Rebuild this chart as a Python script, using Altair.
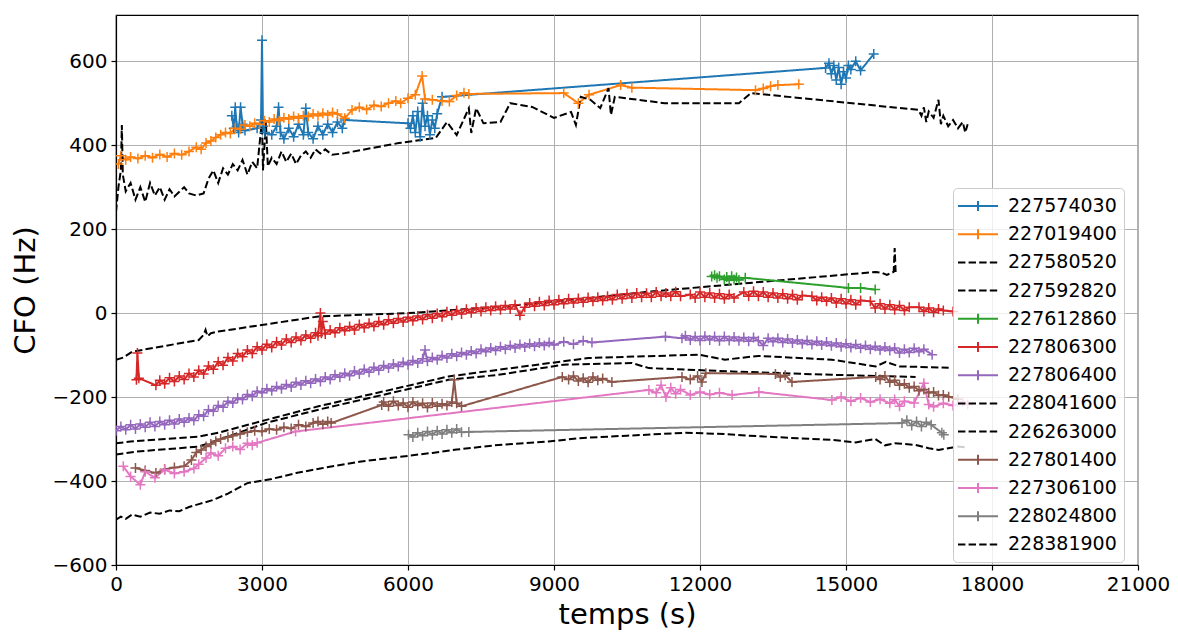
import altair as alt
import pandas as pd

# ---------------- data ----------------
names = ["227574030", "227019400", "227580520", "227592820", "227612860",
         "227806300", "227806400", "228041600", "226263000", "227801400",
         "227306100", "228024800", "228381900"]
colors = ["#1f77b4", "#ff7f0e", "black", "black", "#2ca02c", "#d62728",
          "#9467bd", "black", "black", "#8c564b", "#e377c2", "#7f7f7f", "black"]
dashed = [False, False, True, True, False, False, False, True, True,
          False, False, False, True]

t1 = [2380, 2420, 2450, 2480, 2520, 2560, 2600, 2650, 2900, 2980, 3000, 3020, 3060,
      3200, 3300, 3340, 3380, 3450, 3550, 3650, 3750, 3850, 3900, 3950, 4050, 4150,
      4250, 4350, 4450, 4550, 4650, 4700, 6000, 6050, 6100, 6150, 6200, 6250, 6300,
      6350, 6400, 6450, 6500, 6550, 6600, 6700, 14580, 14650, 14700, 14750, 14800,
      14850, 14900, 14950, 15000, 15050, 15100, 15200, 15300, 15570]
v1 = [470, 440, 490, 445, 430, 490, 450, 435, 440, 460, 650, 445, 430,
      425, 445, 490, 430, 415, 440, 420, 450, 425, 488, 430, 415, 445,
      425, 450, 430, 455, 440, 460, 452, 440, 470, 430, 480, 420, 500,
      445, 470, 425, 460, 440, 475, 515, 584, 595, 570, 590, 555,
      585, 545, 575, 560, 590, 580, 600, 578, 617]

t2 = [50, 100, 200, 300, 450, 600, 750, 900, 1050, 1200, 1350, 1500, 1650, 1750,
      1850, 1950, 2050, 2150, 2250, 2350, 2450, 2550, 2650, 2750, 2850, 2950, 3050,
      3150, 3250, 3350, 3450, 3550, 3650, 3750, 3850, 3950, 4050, 4150, 4250, 4350,
      4450, 4550, 4700, 4850, 5000, 5150, 5300, 5450, 5600, 5750, 5850, 6000, 6150,
      6290, 6350, 6500, 6700, 6850, 7000, 7150, 7250, 9200, 9500, 9720, 10370,
      10600, 13140, 13300, 13450, 13600, 14030]
v2 = [355, 375, 365, 372, 368, 375, 370, 378, 372, 380, 377, 385, 395, 390,
      405, 410, 418, 425, 430, 428, 440, 438, 448, 445, 452, 450, 458,
      455, 462, 458, 465, 462, 468, 464, 470, 468, 474, 470, 476, 472,
      478, 474, 464, 484, 490, 485, 495, 492, 500, 505, 500, 512, 520,
      565, 510, 508, 505, 504, 518, 525, 522, 524, 500, 520, 543,
      537, 531, 535, 540, 543, 545]

t3 = [0, 50, 100, 120, 140, 200, 300, 400, 500, 600, 700, 800, 900, 1000, 1100,
      1200, 1400, 1500, 1650, 1800, 1900, 2000, 2100, 2200, 2300, 2400, 2500, 2600,
      2700, 2800, 2900, 3000, 3020, 3080, 3120, 3200, 3300, 3400, 3500, 3600, 3700,
      3800, 3900, 4000, 4100, 4200, 4300, 4440, 4700, 5810, 6570, 6800, 7000, 7250,
      7300, 7400, 7550, 7900, 8100, 8550, 9000, 9350, 9450, 9550, 9750, 9950,
      10120, 10170, 10250, 11270, 12800, 13050, 16490, 16550, 16600, 16650, 16700,
      16800, 16900, 16950, 17000, 17100, 17200, 17300, 17400, 17450, 17500]
v3 = [241, 300, 340, 448, 330, 290, 310, 270, 300, 265, 310, 280, 300, 270, 295,
      278, 300, 285, 280, 285, 320, 340, 310, 345, 330, 355, 340, 365,
      330, 360, 345, 460, 340, 455, 350, 370, 355, 385, 360, 380, 355,
      375, 385, 370, 390, 380, 390, 377, 381, 405, 417, 455, 424, 488,
      429, 488, 452, 455, 500, 491, 465, 479, 448, 515, 508, 488,
      536, 472, 515, 500, 500, 524, 484, 470, 490, 455, 480,
      465, 508, 450, 470, 445, 460, 440, 455, 430, 450]

t4 = [0, 150, 330, 1700, 1800, 1840, 1880, 1950, 2100, 4160, 6010, 7860, 8890,
      10950, 15610, 15740, 15840, 15980, 16000, 16020]
v4 = [-111, -106, -92, -64, -52, -40, -55, -48, -44, -8, 0, 15, 26,
      51, 98, 96, 91, 98, 155, 98]

t5 = [12240, 12300, 12350, 12400, 12500, 12550, 12600, 12650, 12700, 12750, 12800,
      12930, 15050, 15300, 15600]
v5 = [87, 90, 84, 88, 80, 86, 78, 88, 80, 85, 79, 84, 60, 60, 56]

t6 = [420, 440, 470, 820, 900, 1000, 1100, 1200, 1300, 1400, 1500, 1600, 1700,
      1800, 1900, 2000, 2100, 2200, 2300, 2400, 2500, 2600, 2700, 2800, 2900, 3000,
      3100, 3200, 3300, 3400, 3500, 3600, 3700, 3800, 3900, 4000, 4100, 4150, 4200,
      4220, 4250, 4300, 4400, 4500, 4600, 4700, 4800, 4900, 5000, 5100, 5200, 5300,
      5400, 5500, 5600, 5700, 5800, 5900, 6000, 6100, 6200, 6300, 6400, 6500, 6600,
      6700, 6800, 6900, 7000, 7100, 7200, 7300, 7400, 7500, 7600, 7700, 7800, 7900,
      8000, 8100, 8200, 8300, 8400, 8500, 8600, 8700, 8800, 8900, 9000, 9100, 9200,
      9300, 9400, 9500, 9600, 9700, 9800, 9900, 10000, 10100, 10200, 10300, 10400,
      10500, 10600, 10700, 10800, 10900, 11000, 11100, 11200, 11300, 11400, 11500,
      11600, 11800, 11900, 12000, 12100, 12200, 12300, 12400, 12500, 12600, 12700,
      12900, 13000, 13100, 13200, 13300, 13400, 13500, 13600, 13700, 13800, 13900,
      14000, 14100, 14300, 14400, 14500, 14600, 14700, 14800, 14900, 15000, 15100,
      15200, 15300, 15500, 15600, 15700, 15800, 15900, 16000, 16100, 16200, 16300,
      16500, 16600, 16700, 16800, 16900, 17000, 17200]
v6 = [-159, -95, -155, -172, -160, -168, -154, -163, -150, -158, -144, -152, -136,
      -145, -126, -134, -116, -124, -106, -114, -96, -104, -88, -96, -80, -88,
      -74, -82, -68, -76, -62, -70, -57, -65, -52, -60, -47, -54, 0,
      -48, -20, -50, -40, -47, -35, -42, -32, -40, -27, -35, -24, -32,
      -20, -28, -16, -24, -13, -21, -10, -18, -7, -15, -4, -12, -1,
      -9, 3, -5, 6, -2, 9, 1, 12, 4, 14, 6, 16, 8,
      18, 10, 20, -5, 14, 24, 16, 27, 18, 30, 20, 32, 22,
      34, 24, 35, 26, 37, 28, 38, 30, 40, 32, 44, 34,
      46, 36, 48, 38, 47, 38, 50, 40, 48, 40, 51,
      40, 44, 36, 50, 38, 48, 36, 46, 34, 44, 36,
      50, 40, 52, 40, 50, 38, 48, 36, 46, 34, 44,
      32, 42, 40, 30, 38, 28, 36, 24, 34, 22, 32,
      20, 30, 28, 12, 22, 10, 20, 8, 18, 6, 14,
      14, 4, 12, 2, 10, 6, 4]

t7 = [0, 100, 200, 300, 400, 500, 600, 700, 800, 900, 1000, 1100, 1200, 1300, 1400,
      1500, 1600, 1700, 1800, 1900, 2000, 2100, 2200, 2300, 2400, 2500, 2600, 2700,
      2800, 2900, 3000, 3100, 3200, 3300, 3400, 3500, 3600, 3700, 3800, 3900, 4000,
      4100, 4200, 4300, 4400, 4500, 4600, 4700, 4800, 4900, 5000, 5100, 5200, 5300,
      5400, 5500, 5600, 5700, 5800, 5900, 6000, 6100, 6200, 6300, 6350, 6400, 6500,
      6600, 6700, 6800, 6900, 7000, 7100, 7200, 7300, 7400, 7500, 7600, 7700, 7800,
      7900, 8000, 8100, 8200, 8300, 8400, 8500, 8600, 8700, 8800, 8900, 9000, 9200,
      9400, 9600, 9780, 11290, 11630, 11700, 11800, 11900, 12000, 12100, 12200,
      12300, 12400, 12500, 12600, 12700, 12800, 12900, 13000, 13100, 13200, 13300,
      13400, 13500, 13600, 13700, 13800, 13900, 14000, 14100, 14200, 14300, 14400,
      14500, 14600, 14700, 14800, 14900, 15000, 15100, 15200, 15300, 15400, 15500,
      15600, 15700, 15800, 15900, 16000, 16100, 16200, 16300, 16400, 16500, 16600,
      16770]
v7 = [-280, -270, -278, -266, -276, -264, -272, -260, -270, -258, -266, -255, -264,
      -252, -260, -250, -256, -242, -246, -230, -234, -220, -224, -210, -214, -202,
      -206, -194, -198, -186, -190, -180, -185, -175, -180, -170, -176, -165, -171,
      -161, -167, -157, -163, -152, -158, -147, -153, -143, -149, -138, -145, -134,
      -141, -129, -136, -125, -131, -121, -127, -117, -123, -113, -119, -109, -88,
      -115, -106, -111, -101, -107, -97, -103, -94, -99, -90, -96, -86, -92, -83,
      -89, -80, -86, -77, -83, -75, -81, -73, -79, -71, -77, -70, -76, -68,
      -74, -66, -70, -56, -60, -54, -64, -56, -65, -55, -64,
      -56, -66, -56, -65, -57, -66, -58, -67, -58, -66, -77,
      -60, -68, -60, -70, -62, -71, -64, -73, -65, -75, -67,
      -76, -69, -78, -71, -80, -73, -82, -75, -84, -77, -86,
      -79, -88, -81, -89, -83, -95, -86, -94, -84, -92, -86,
      -99]

t8 = [0, 300, 1700, 2100, 3070, 4160, 6830, 7860, 9710, 11970, 12510, 13200,
      14710, 15610, 15820, 16090, 17110]
v8 = [-310, -306, -294, -285, -255, -222, -151, -135, -107, -99, -111, -102,
      -111, -127, -116, -127, -130]

t9 = [0, 400, 1700, 2400, 3070, 4160, 6830, 7860, 9200, 10600, 10950, 12660,
      14710, 16430]
v9 = [-337, -330, -318, -290, -262, -230, -159, -147, -123, -119, -131, -139,
      -147, -152]

t10 = [400, 600, 820, 1000, 1200, 1400, 1550, 1650, 1750, 1850, 1950, 2050, 2150,
       2300, 2400, 2550, 2700, 2850, 3000, 3150, 3300, 3450, 3600, 3750, 3900, 4050,
       4150, 4250, 4350, 4420, 5460, 5500, 5600, 5700, 5800, 5900, 6000, 6100, 6200,
       6300, 6400, 6500, 6600, 6700, 6800, 6900, 6950, 7000, 7100, 9170, 9300, 9400,
       9500, 9600, 9700, 9800, 9900, 10000, 10190, 11630, 11800, 11950, 12040, 12120,
       13550, 13650, 13750, 13890, 15610, 15700, 15800, 15900, 16000, 16100, 16200,
       16300, 16400, 16500, 16600, 16700, 16800, 16900, 17000, 17110, 17300]
v10 = [-369, -375, -381, -372, -368, -365, -350, -332, -326, -318, -312, -305, -300,
       -296, -292, -288, -284, -280, -282, -276, -278, -272, -275, -266, -270, -262,
       -258, -265, -258, -262, -219, -212, -222, -210, -220, -214, -224, -212, -220,
       -215, -225, -214, -222, -216, -220, -212, -159, -215, -222, -152, -158, -150,
       -162, -155, -165, -152, -160, -156, -164, -152, -158, -150, -164, -143,
       -145, -152, -148, -164, -152, -158, -150, -165, -160, -172, -168,
       -178, -175, -185, -182, -190, -188, -196, -195, -199, -205]

t11 = [150, 300, 500, 600, 800, 1000, 1200, 1400, 1600, 1700, 1850, 1950, 2100,
       2250, 2400, 2550, 2700, 2800, 2900, 3690, 10950, 11100, 11200, 11300, 11400,
       11500, 11600, 11800, 12000, 12200, 12400, 12660, 13210, 14710, 14900, 15100,
       15300, 15500, 15700, 15900, 16000, 16100, 16200, 16400, 16600, 16700, 16800,
       17000, 17200, 17400, 17500]
v11 = [-365, -389, -409, -378, -392, -373, -382, -378, -370, -360, -345, -333, -340,
       -322, -318, -325, -310, -315, -309, -282, -183, -190, -172, -200, -178,
       -192, -182, -195, -188, -194, -190, -195, -188, -207, -200, -210,
       -202, -212, -205, -215, -206, -222, -210, -214, -167, -218, -223,
       -215, -220, -212, -218]

t12 = [6010, 6100, 6200, 6300, 6400, 6500, 6600, 6700, 6800, 6900, 7000, 7100,
       7250, 16150, 16250, 16350, 16450, 16550, 16650, 16750, 16970, 17010]
v12 = [-290, -295, -285, -292, -282, -290, -280, -288, -278, -285, -276, -284,
       -283, -262, -255, -268, -258, -270, -260, -266, -285, -290]

t13 = [0, 100, 200, 330, 500, 700, 900, 1100, 1300, 1500, 1700, 2000, 2300, 2700,
       3200, 3700, 4200, 5000, 6000, 6500, 7000, 7860, 8890, 9500, 10500, 11700,
       12500, 13000, 13500, 14000, 14710, 15200, 15600, 15800, 16000, 16430, 16700,
       16900, 17100, 17300, 17500]
v13 = [-492, -485, -490, -480, -485, -475, -478, -470, -472, -462, -455, -445, -430,
       -405, -395, -381, -370, -354, -340, -333, -325, -314, -306, -298, -292, -285,
       -288, -292, -295, -298, -302, -308, -300, -315, -310, -314, -322,
       -326, -322, -318, -320]

all_t = [t1, t2, t3, t4, t5, t6, t7, t8, t9, t10, t11, t12, t13]
all_v = [v1, v2, v3, v4, v5, v6, v7, v8, v9, v10, v11, v12, v13]

x_ticks = [0, 3000, 6000, 9000, 12000, 15000, 18000, 21000]
y_ticks = [-600, -400, -200, 0, 200, 400, 600]

# ---------------- table ----------------
rows = []
for k, (nm, ts, vs) in enumerate(zip(names, all_t, all_v)):
    for i, (t, v) in enumerate(zip(ts, vs)):
        rows.append({"serie": nm, "k": k, "t": t, "cfo": v,
                     "marker": not dashed[k], "first": i == 0})
df = pd.DataFrame(rows)

FONT = "DejaVu Sans"
dash_range = [[7.4, 3.2] if d else [1, 0] for d in dashed]
legend_shapes = ["M-2,0L2,0" if d else "M-2,0L2,0M0,-0.5L0,0.5" for d in dashed]

x_enc = alt.X("t:Q", scale=alt.Scale(domain=[0, 21000], nice=False, zero=False),
              axis=alt.Axis(values=x_ticks, format="d", title="temps (s)"))
y_enc = alt.Y("cfo:Q", scale=alt.Scale(domain=[-600, 710], nice=False, zero=False),
              axis=alt.Axis(values=y_ticks, format="d", title="CFO (Hz)"))

leg = alt.Legend(
    title=None, orient="none", legendX=837, legendY=173,
    labelFont=FONT, labelFontSize=19, labelColor="black",
    symbolSize=400, symbolStrokeWidth=2, symbolOffset=7, labelOffset=19,
    symbolOpacity=1, symbolFillColor="transparent",
    rowPadding=7.2, padding=7, cornerRadius=4,
    strokeColor="#cccccc", fillColor="rgba(255,255,255,0.8)",
)
color_scale = alt.Scale(domain=names, range=colors)
dash_scale = alt.Scale(domain=names, range=dash_range)
shape_scale = alt.Scale(domain=names, range=legend_shapes)

lines = alt.Chart(df).mark_line(strokeWidth=2, clip=True).encode(
    x=x_enc, y=y_enc,
    color=alt.Color("serie:N", scale=color_scale, legend=None),
    strokeDash=alt.StrokeDash("serie:N", scale=dash_scale, legend=None),
    detail="serie:N",
    order="t:Q",
)
points = alt.Chart(df).transform_filter("datum.marker").mark_point(
    shape="M-1,0L1,0M0,-1L0,1", size=100, strokeWidth=1.5, filled=False,
    opacity=1, clip=True,
).encode(
    x="t:Q", y="cfo:Q",
    color=alt.Color("serie:N", scale=color_scale, legend=None),
)
legend_layer = alt.Chart(df).transform_filter("datum.first").mark_point(
    filled=False, opacity=0, clip=True,
).encode(
    x="t:Q", y="cfo:Q",
    color=alt.Color("serie:N", scale=color_scale, legend=leg),
    strokeDash=alt.StrokeDash("serie:N", scale=dash_scale, legend=leg),
    shape=alt.Shape("serie:N", scale=shape_scale, legend=leg),
)

chart = alt.layer(lines, points, legend_layer).resolve_legend(
    color="independent", strokeDash="independent", shape="independent"
).properties(
    width=1022, height=550,
    autosize=alt.AutoSizeParams(type="none"),
    padding={"left": 108, "top": 7, "right": 32, "bottom": 70},
).configure_view(
    stroke="black", strokeWidth=1.2
).configure_axis(
    labelFont=FONT, titleFont=FONT, labelFontSize=20, titleFontSize=29,
    titleFontWeight="normal", labelColor="black", titleColor="black",
    grid=True, gridColor="#b0b0b0", gridWidth=1, labelFlush=False,
    domainColor="black", domainWidth=1.2, tickColor="black", tickSize=5,
    tickWidth=1.2, labelPadding=4,
).configure_axisX(titlePadding=6).configure_axisY(titlePadding=12)

chart.save("out.html", embed_options={"renderer": "svg", "actions": False})
